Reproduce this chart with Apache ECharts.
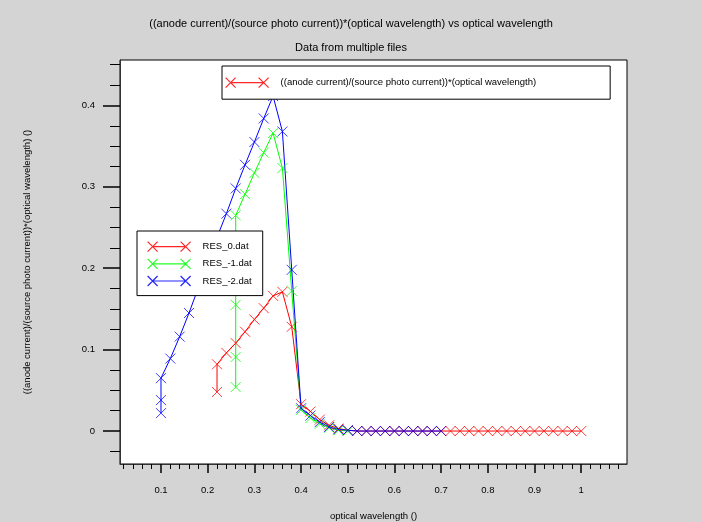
<!DOCTYPE html>
<html>
<head>
<meta charset="utf-8">
<script src="https://cdn.jsdelivr.net/npm/echarts@6/dist/echarts.min.js"></script>
<style>
  html, body { margin: 0; padding: 0; background: #d4d4d4; }
  #chart { width: 702px; height: 522px; }
</style>
</head>
<body>
<div id="chart"></div>
<script>
// RES_0.dat
const res0X = [0.22, 0.22, 0.24, 0.26, 0.28, 0.30, 0.32, 0.34, 0.36, 0.38, 0.40, 0.42, 0.44, 0.46, 0.48, 0.50,
  0.52, 0.54, 0.56, 0.58, 0.60, 0.62, 0.64, 0.66, 0.68, 0.70, 0.72, 0.74, 0.76, 0.78, 0.80,
  0.82, 0.84, 0.86, 0.88, 0.90, 0.92, 0.94, 0.96, 0.98, 1.00];
const res0Y = [0.048, 0.082, 0.096, 0.108, 0.122, 0.137, 0.151, 0.166, 0.171, 0.128, 0.033, 0.024, 0.014, 0.007, 0.003, 0.001,
  0, 0, 0, 0, 0, 0, 0, 0, 0, 0, 0, 0, 0, 0, 0,
  0, 0, 0, 0, 0, 0, 0, 0, 0, 0];
// RES_-1.dat
const res1X = [0.26, 0.26, 0.26, 0.26, 0.28, 0.30, 0.32, 0.34, 0.36, 0.38, 0.40, 0.42, 0.44, 0.46, 0.48, 0.50];
const res1Y = [0.054, 0.091, 0.155, 0.265, 0.291, 0.317, 0.342, 0.366, 0.323, 0.172, 0.026, 0.016, 0.009, 0.004, 0.001, 0];
// RES_-2.dat
const res2X = [0.10, 0.10, 0.10, 0.12, 0.14, 0.16, 0.18, 0.20, 0.22, 0.24, 0.26, 0.28, 0.30, 0.32, 0.34, 0.36, 0.38,
  0.40, 0.42, 0.44, 0.46, 0.48, 0.50, 0.52, 0.54, 0.56, 0.58, 0.60, 0.62, 0.64, 0.66, 0.68, 0.70];
const res2Y = [0.022, 0.038, 0.065, 0.089, 0.116, 0.145, 0.176, 0.207, 0.238, 0.267, 0.298, 0.327, 0.355, 0.384, 0.4115, 0.368, 0.198,
  0.028, 0.019, 0.011, 0.005, 0.002, 0.001, 0, 0, 0, 0, 0, 0, 0, 0, 0, 0];

const xTicks = [0.1, 0.2, 0.3, 0.4, 0.5, 0.6, 0.7, 0.8, 0.9, 1];
const yTicks = [0, 0.1, 0.2, 0.3, 0.4];

const quantityName = '((anode current)/(source photo current))*(optical wavelength)';
const font = 'Liberation Sans';

// minor tick positions between the labelled ticks
const xMinor = [];
for (let i = 1; i <= 54; i++) if (i % 5) xMinor.push(+(i * 0.02).toFixed(2));
const yMinor = [];
for (let i = -1; i <= 18; i++) if (i % 4) yMinor.push(+(i * 0.025).toFixed(3));

const cross = 'path://M0,0L10,10M10,0L0,10';
const legendIcon = 'path://M0,0L10,10M10,0L0,10M5,5L38,5M33,0L43,10M43,0L33,10M50,5L50,5';

function pairs(xs, ys) {
  return xs.map((x, i) => [x, ys[i]]);
}
function line(name, color, data) {
  return {
    name: name,
    type: 'line',
    data: data,
    symbol: cross,
    symbolSize: 10,
    showAllSymbol: true,
    itemStyle: { color: color, borderColor: color, borderWidth: 0.9, opacity: 0.85 },
    lineStyle: { color: color, width: 1 },
    emphasis: { disabled: true }
  };
}
function legendItem(name, color) {
  return { name: name, icon: legendIcon, itemStyle: { color: color, borderColor: color, borderWidth: 1.2 } };
}

const min = { x: 0.0122, y: -0.0405 };
const max = { x: 1.098, y: 0.4558 };
const tickFont = { fontFamily: font, fontSize: 9.5, color: '#000' };

let chart = echarts.init(document.getElementById('chart'));
chart.setOption({
  animation: false,
  backgroundColor: '#d4d4d4',
  title: [
    { text: quantityName + ' vs optical wavelength', left: 'center', top: 13,
      textStyle: { fontFamily: font, fontSize: 11, fontWeight: 'normal', color: '#000' } },
    { text: 'Data from multiple files', left: 'center', top: 37,
      textStyle: { fontFamily: font, fontSize: 11, fontWeight: 'normal', color: '#000' } }
  ],
  grid: {
    left: 120, right: 75, top: 60, bottom: 58,
    outerBoundsMode: 'none',
    show: true, backgroundColor: '#fff', borderColor: '#000', borderWidth: 1
  },
  legend: [
    {
      data: [legendItem(quantityName, '#ff0000')],
      left: 222, top: 66,
      padding: [11, 74, 11, 3],
      itemWidth: 50, itemHeight: 10,
      backgroundColor: '#fff', borderColor: '#000', borderWidth: 1,
      selectedMode: false,
      textStyle: tickFont
    },
    {
      data: [legendItem('RES_0.dat', '#ff0000'), legendItem('RES_-1.dat', '#00ff00'), legendItem('RES_-2.dat', '#0000ff')],
      orient: 'vertical',
      left: 137, top: 231,
      padding: [10, 11, 9, 10],
      itemWidth: 50, itemHeight: 10, itemGap: 6,
      backgroundColor: '#fff', borderColor: '#000', borderWidth: 1,
      selectedMode: false,
      textStyle: tickFont
    }
  ],
  xAxis: [
    {
      type: 'value', position: 'bottom', min: min.x, max: max.x,
      name: 'optical wavelength ()', nameLocation: 'middle', nameGap: 47,
      nameTextStyle: tickFont,
      axisLine: { show: true, onZero: false, lineStyle: { color: '#333' } },
      axisTick: { show: true, length: 9, customValues: xTicks, lineStyle: { color: '#000', width: 1.5 } },
      axisLabel: { customValues: xTicks, margin: 21, ...tickFont },
      splitLine: { show: false }
    },
    {
      type: 'value', position: 'bottom', min: min.x, max: max.x,
      axisLine: { show: false, onZero: false },
      axisTick: { show: true, length: 5, customValues: xMinor, lineStyle: { color: '#000' } },
      axisLabel: { show: false },
      splitLine: { show: false }
    }
  ],
  yAxis: [
    {
      type: 'value', position: 'left', min: min.y, max: max.y,
      name: quantityName + ' ()', nameLocation: 'middle', nameGap: 88,
      nameTextStyle: tickFont,
      axisLine: { show: true, onZero: false, lineStyle: { color: '#333' } },
      axisTick: { show: true, length: 17, customValues: yTicks, lineStyle: { color: '#000', width: 1.5 } },
      axisLabel: { customValues: yTicks, margin: 25, ...tickFont },
      splitLine: { show: false }
    },
    {
      type: 'value', position: 'left', min: min.y, max: max.y,
      axisLine: { show: false, onZero: false },
      axisTick: { show: true, length: 10, customValues: yMinor, lineStyle: { color: '#000' } },
      axisLabel: { show: false },
      splitLine: { show: false }
    }
  ],
  series: [
    line(quantityName, '#ff0000', []),
    line('RES_0.dat', '#ff0000', pairs(res0X, res0Y)),
    line('RES_-1.dat', '#00ff00', pairs(res1X, res1Y)),
    line('RES_-2.dat', '#0000ff', pairs(res2X, res2Y))
  ]
});
</script>
</body>
</html>
